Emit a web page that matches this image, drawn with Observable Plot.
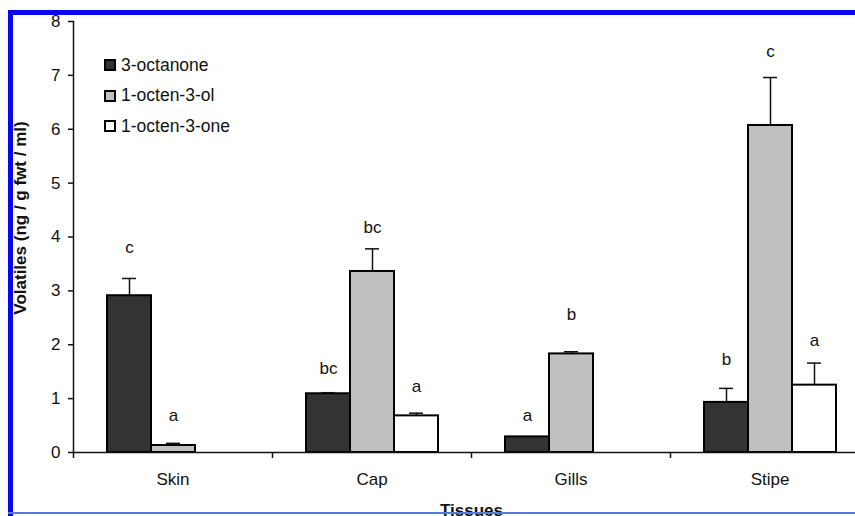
<!DOCTYPE html>
<html>
<head>
<meta charset="utf-8">
<script src="https://cdn.jsdelivr.net/npm/d3@7"></script>
<script src="https://cdn.jsdelivr.net/npm/@observablehq/plot@0.6"></script>
<style>
  html, body { margin: 0; padding: 0; background: #fff; overflow: hidden; }
  #wrap { position: relative; width: 855px; height: 516px; overflow: hidden; background: #fff; }
  #chart svg { max-width: none !important; position: absolute; left: 0; top: 0; }
  .bd { position: absolute; z-index: 5; }
  #legend { position: absolute; left: 104px; top: 50px; z-index: 4;
    font-family: "Liberation Sans", Arial, sans-serif; font-size: 17.5px; color: #111; }
  #legend .row { height: 30.5px; display: flex; align-items: center; white-space: nowrap; }
  #legend .sw { width: 8px; height: 8px; border: 2px solid #000; margin-right: 5px; box-sizing: content-box; }
</style>
</head>
<body>
<div id="wrap">
  <div id="chart"></div>
  <div id="legend"></div>
  <div class="bd" style="left:8px; top:10px; width:847px; height:5px; background:#0606f0;"></div>
  <div class="bd" style="left:8px; top:10px; width:5px; height:506px; background:#0606f0;"></div>
  <div class="bd" style="left:8px; top:512px; width:847px; height:2px; background:#5a78e0;"></div>
</div>
<script>
// ---- data ----
const tissues = ["Skin", "Cap", "Gills", "Stipe"];
const seriesNames = ["3-octanone", "1-octen-3-ol", "1-octen-3-one"];
const seriesFills = ["#333333", "#c0c0c0", "#ffffff"];

const octanone = [2.91, 1.09, 0.29, 0.93];
const octanoneErr = [0.32, 0.02, 0, 0.26];
const octanoneLetters = ["c", "bc", "a", "b"];
const octanoneLetterY = [3.80, 1.56, 0.69, 1.72];

const octenol = [0.13, 3.36, 1.83, 6.07];
const octenolErr = [0.04, 0.42, 0.04, 0.89];
const octenolLetters = ["a", "bc", "b", "c"];
const octenolLetterY = [0.69, 4.17, 2.56, 7.44];

const octenone = [0, 0.68, 0, 1.25];
const octenoneErr = [0, 0.05, 0, 0.41];
const octenoneLetters = ["", "a", "", "a"];
const octenoneLetterY = [0, 1.22, 0, 2.07];

const yTicks = [0, 1, 2, 3, 4, 5, 6, 7, 8];
const yLabel = "Volatiles (ng / g fwt / ml)";
const xLabel = "Tissues";

// ---- build table ----
const seriesValues = [octanone, octenol, octenone];
const seriesErrs = [octanoneErr, octenolErr, octenoneErr];
const seriesLetters = [octanoneLetters, octenolLetters, octenoneLetters];
const seriesLetterY = [octanoneLetterY, octenolLetterY, octenoneLetterY];
const rows = [];
tissues.forEach((t, i) => {
  seriesNames.forEach((s, j) => {
    rows.push({
      tissue: t, series: s,
      value: seriesValues[j][i],
      err: seriesErrs[j][i],
      top: seriesValues[j][i] + seriesErrs[j][i],
      letter: seriesLetters[j][i],
      letterY: seriesLetterY[j][i]
    });
  });
});
const bars = rows.filter(d => d.value > 0);
const errs = rows.filter(d => d.err > 0);
const letters = rows.filter(d => d.letter);

const W = 869, H = 516, ML = 73, MR = 0, MT = 21, MB = 64;
const step = (W - ML - MR) / tissues.length;
const font = "'Liberation Sans', Arial, sans-serif";

const chart = Plot.plot({
  width: W, height: H,
  marginLeft: ML, marginRight: MR, marginTop: MT, marginBottom: MB,
  style: { fontFamily: font, fontSize: "17px", background: "transparent", overflow: "visible", maxWidth: "none", color: "#111" },
  fx: { domain: tissues, paddingInner: 0, paddingOuter: 0, axis: null, label: null },
  x: { domain: seriesNames, paddingInner: 0, paddingOuter: 0.76, axis: null },
  y: { domain: [0, 8], axis: null, label: null },
  color: { domain: seriesNames, range: seriesFills },
  marks: [
    Plot.barY(bars, { fx: "tissue", x: "series", y: "value", fill: "series", stroke: "#000", strokeWidth: 2 }),
    Plot.ruleX(errs, { fx: "tissue", x: "series", y1: "value", y2: "top", stroke: "#111", strokeWidth: 1.5 }),
    Plot.tickY(errs, { fx: "tissue", x: "series", y: "top", stroke: "#111", strokeWidth: 1.5, insetLeft: 15, insetRight: 15 }),
    Plot.text(letters, { fx: "tissue", x: "series", y: "letterY", text: "letter", fontSize: 17, fill: "#111" }),
    Plot.frame({ anchor: "left", facet: "super", stroke: "#111", strokeWidth: 1.5 }),
    Plot.frame({ anchor: "bottom", facet: "super", stroke: "#111", strokeWidth: 1.5 }),
    Plot.axisY({ ticks: yTicks, tickSize: 5, tickPadding: 8, tickFormat: d => String(d), fontSize: 17, label: null, stroke: "#111", strokeWidth: 1.5, fill: "#111" }),
    Plot.axisFx({ anchor: "bottom", tickSize: 6, text: null, label: null, dx: -step / 2, stroke: "#111", strokeWidth: 1.5 }),
    Plot.axisFx({ anchor: "bottom", tickSize: 0, tickPadding: 20, fontSize: 17, label: null, fill: "#111" }),
    Plot.text([yLabel], { facet: "super", frameAnchor: "left", rotate: -90, dx: -53, dy: -19, textAnchor: "middle", lineAnchor: "middle", fontWeight: "bold", fontSize: 17, fill: "#111" }),
    Plot.text([xLabel], { facet: "super", frameAnchor: "bottom", dy: 58, textAnchor: "middle", lineAnchor: "middle", fontWeight: "bold", fontSize: 17, fill: "#111" })
  ]
});
document.getElementById("chart").appendChild(chart);

// legend (overlay, inside plot area as in reference)
const legend = document.getElementById("legend");
seriesNames.forEach((s, j) => {
  const row = document.createElement("div");
  row.className = "row";
  const sw = document.createElement("span");
  sw.className = "sw";
  sw.style.background = seriesFills[j];
  const tx = document.createElement("span");
  tx.textContent = s;
  row.appendChild(sw); row.appendChild(tx);
  legend.appendChild(row);
});
</script>
</body>
</html>
